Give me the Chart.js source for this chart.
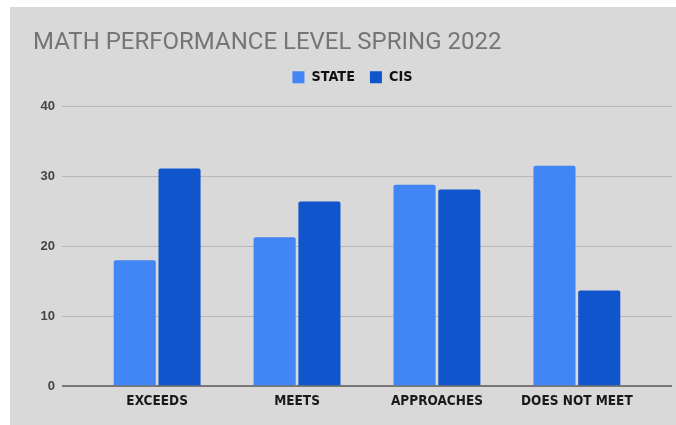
<!DOCTYPE html>
<html>
<head>
<meta charset="utf-8">
<script src="https://cdn.jsdelivr.net/npm/chart.js@4.4.0/dist/chart.umd.min.js"></script>
<style>
  body { margin: 0; background: #fff; }
  #caixa { position: absolute; left: 10px; top: 7px; width: 666px; height: 418px; background: #d9d9d9; }
</style>
</head>
<body>
<div id="caixa"><canvas id="grafico" width="666" height="418"></canvas></div>
<script>
const categorias = ["EXCEEDS", "MEETS", "APPROACHES", "DOES NOT MEET"];
const estado = [18, 21.3, 28.8, 31.5];
const cis = [31.1, 26.4, 28.1, 13.7];
const ticksY = [0, 10, 20, 30, 40];

const ctx = document.getElementById("grafico").getContext("2d");

// legenda um pouco mais alta para afastar do gráfico
const folgaLegenda = {
  id: "folgaLegenda",
  beforeInit(chart) {
    const fitOriginal = chart.legend.fit;
    chart.legend.fit = function () {
      fitOriginal.bind(chart.legend)();
      this.height += 12;
    };
  }
};

const familiaEixo = "'Liberation Sans Narrow', 'DejaVu Sans Condensed', sans-serif";

const grafico = new Chart(ctx, {
  type: "bar",
  data: {
    datasets: [
      {
        label: "STATE",
        data: estado.map((v, i) => ({ x: i, y: v })),
        backgroundColor: "#4285f4",
        borderRadius: { topLeft: 2, topRight: 2 },
        borderSkipped: "start"
      },
      {
        label: "CIS",
        data: cis.map((v, i) => ({ x: i, y: v })),
        backgroundColor: "#1155cc",
        borderRadius: { topLeft: 2, topRight: 2 },
        borderSkipped: "start"
      }
    ]
  },
  options: {
    responsive: false,
    animation: false,
    categoryPercentage: 0.64,
    barPercentage: 0.94,
    layout: { padding: { left: 23, right: 4, top: 0, bottom: 8.5 } },
    plugins: {
      title: {
        display: true,
        text: "MATH PERFORMANCE LEVEL SPRING 2022",
        align: "start",
        color: "#757575",
        font: { family: "Roboto, sans-serif", size: 24, weight: "normal", lineHeight: 1 },
        padding: { top: 24, bottom: 0 }
      },
      legend: {
        labels: {
          boxWidth: 12,
          boxHeight: 12,
          padding: 15,
          color: "#111",
          font: { family: familiaEixo, size: 14.3, weight: "bold" }
        }
      },
      tooltip: { enabled: false }
    },
    scales: {
      x: {
        type: "linear",
        offset: false,
        min: -0.68,
        max: 3.68,
        grid: { display: false, drawTicks: false },
        border: { display: false },
        ticks: {
          stepSize: 1,
          includeBounds: false,
          autoSkip: false,
          maxRotation: 0,
          padding: 7,
          color: "#1a1a1a",
          font: { family: familiaEixo, size: 13.5, weight: "bold" },
          callback: v => categorias[v] ?? ""
        }
      },
      y: {
        min: ticksY[0],
        max: ticksY[ticksY.length - 1],
        afterFit: s => { s.width = 29; },
        afterBuildTicks: s => { s.ticks = ticksY.map(v => ({ value: v })); },
        border: { display: false },
        grid: {
          drawTicks: false,
          color: c => c.tick && c.tick.value === 0 ? "#777" : "#b8b8b8",
          lineWidth: c => c.tick && c.tick.value === 0 ? 2 : 1
        },
        ticks: {
          padding: 7,
          color: "#444",
          font: { family: "'Liberation Sans', Arial, sans-serif", size: 13, weight: "bold" }
        }
      }
    }
  },
  plugins: [folgaLegenda]
});
</script>
</body>
</html>
